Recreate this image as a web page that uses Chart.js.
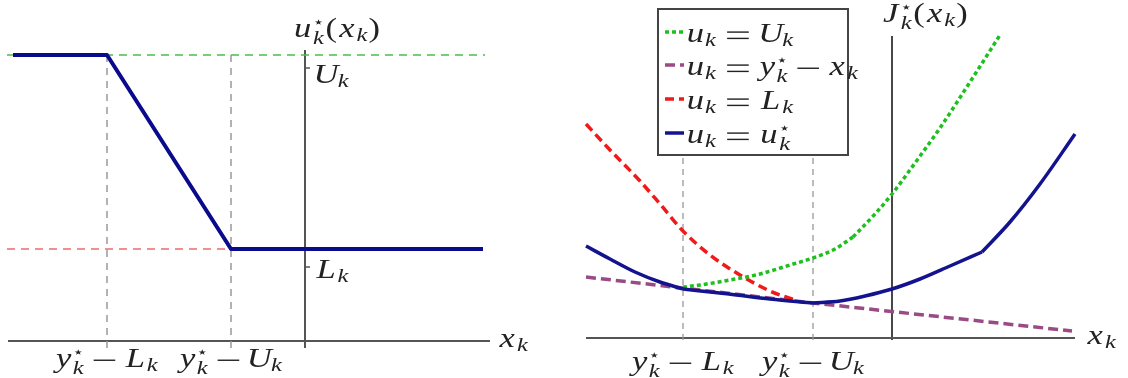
<!DOCTYPE html>
<html lang="en">
<head>
<meta charset="UTF-8">
<title>u*(x) and J*(x)</title>
<script src="https://cdn.jsdelivr.net/npm/chart.js"></script>
<style>
  body { margin: 0; background: #fff; }
  .panel { position: absolute; top: 0; width: 560px; height: 378px; }
  #leftPanel { left: 0; }
  #rightPanel { left: 568px; }
</style>
</head>
<body>
<div class="panel" id="leftPanel"><canvas id="leftChart" width="560" height="378"></canvas></div>
<div class="panel" id="rightPanel"><canvas id="rightChart" width="560" height="378"></canvas></div>
<script>
// ---------- left panel: u*_k(x_k) ----------
const yMinusL = -19.8;        // y*_k - L_k
const yMinusU = -7.4;         // y*_k - U_k
const levelU = 28.6;          // U_k
const levelL = 9.2;           // L_k
const uStarX = [-29.2, yMinusL, yMinusU, 17.8];
const uStarY = [levelU, levelU, levelL, levelL];
const uTickVals = [27.3, 7.4];   // U_k, L_k tick marks on the vertical axis

// ---------- right panel: J*_k(x_k) ----------
const jMarks = [-20.9, -7.9];    // y*_k - L_k, y*_k - U_k
const jOptX = [-30.6, -28.2, -25.7, -23.2, -20.9, -16.3, -12.2, -7.9, -5.2, -2.7, 0, 2.8, 5.8, 9.0, 11.8, 14.8, 18.3];
const jOptY = [9.2, 7.9, 6.6, 5.6, 4.9, 4.4, 3.9, 3.5, 3.7, 4.2, 4.9, 5.9, 7.2, 8.6, 11.6, 15.4, 20.4];
const jOptKinks = [4, 7, 13];
const jUX = [-21.6, -19.2, -16.2, -13.2, -10.2, -7.9, -5.7, -3.9, -1.7, 0, 2.3, 4.8, 7.8, 10.8];
const jUY = [5.0, 5.3, 5.8, 6.4, 7.3, 8.0, 8.9, 10.1, 12.4, 14.4, 17.5, 21.0, 25.6, 30.3];
const jUKinks = [7];
const jLX = [-30.6, -28.2, -25.2, -23.2, -20.9, -18.2, -15.2, -12.2, -9.7];
const jLY = [21.4, 18.8, 15.7, 13.4, 10.7, 8.3, 6.3, 4.7, 3.8];
const jYX = [-30.6, -7.9, 18.0];
const jYY = [6.1, 3.5, 0.7];

const SERIF = '"Liberation Serif", "DejaVu Serif", serif';
const TEXT = '#222';
const SX = 1.2;       // the figure is a bit wider than tall
const GSX = 1.28;     // glyph stretch (Times is narrower than CM)
const CMW = { u: .572, x: .572, y: .49, k: .521, U: .683, L: .681, J: .554, '(': .389, ')': .389 };

function parseMath(expr) {
  const boxes = [];
  for (let i = 0; i < expr.length; i++) {
    const c = expr[i];
    if (c === '_' || c === '^') {
      const last = boxes[boxes.length - 1];
      const s = expr[++i];
      if (c === '_') last.sub = s; else last.sup = s === '*' ? '\u22C6' : s;
    } else if (c === '=' || c === '-') {
      boxes.push({ op: c });
    } else if (c !== ' ') {
      boxes.push({ ch: c, roman: c === '(' || c === ')' });
    }
  }
  return boxes;
}

function mathWidth(boxes, size) {
  let w = 0;
  boxes.forEach(b => {
    if (b.op) { w += (b.op === '=' ? 1.334 : 1.222) * size * SX; return; }
    w += CMW[b.ch] * size * SX;
    if (b.sub || b.sup) w += Math.max(b.sub ? CMW[b.sub] * 0.7 : 0, b.sup ? 0.4 : 0) * size * SX;
  });
  return w;
}

function drawGlyph(ctx, ch, cx, y, font) {
  ctx.save();
  ctx.font = font;
  ctx.translate(cx, y);
  ctx.scale(GSX, 1);
  ctx.textAlign = 'center';
  ctx.fillText(ch, 0, 0);
  ctx.restore();
}

function drawMath(ctx, expr, x, y, size, align) {
  const boxes = parseMath(expr);
  const w = mathWidth(boxes, size);
  let px = align === 'center' ? x - w / 2 : x;
  ctx.fillStyle = TEXT;
  ctx.textBaseline = 'alphabetic';
  const bar = Math.max(1.4, size * 0.045);
  boxes.forEach(b => {
    if (b.op) {
      const gap = (b.op === '=' ? 0.278 : 0.222) * size * SX;
      const len = 0.667 * size * SX;
      const x0 = px + gap + 0.055 * size * SX;
      if (b.op === '=') {
        ctx.fillRect(x0, y - 0.367 * size - bar / 2, len, bar);
        ctx.fillRect(x0, y - 0.133 * size - bar / 2, len, bar);
      } else {
        ctx.fillRect(x0, y - 0.25 * size - bar / 2, len, bar);
      }
      px += gap * 2 + 0.778 * size * SX;
      return;
    }
    const cw = CMW[b.ch] * size * SX;
    drawGlyph(ctx, b.ch, px + cw / 2, y, (b.roman ? '' : 'italic ') + size + 'px ' + SERIF);
    px += cw;
    if (b.sub || b.sup) {
      const sw = Math.max(b.sub ? CMW[b.sub] * 0.7 : 0, b.sup ? 0.4 : 0) * size * SX;
      const ss = Math.round(size * 0.7);
      if (b.sub) drawGlyph(ctx, b.sub, px + sw / 2, y + (b.sup ? 0.25 : 0.15) * size, 'italic ' + ss + 'px ' + SERIF);
      if (b.sup) drawGlyph(ctx, b.sup, px + sw / 2, y - 0.36 * size, Math.round(size * 0.55) + 'px "DejaVu Sans", sans-serif');
      px += sw;
    }
  });
}

function series(xs, ys, color, width, dash, smooth) {
  return {
    data: xs.map((x, i) => ({ x: x, y: ys[i] })),
    showLine: true, borderColor: color, borderWidth: width, borderDash: dash || [],
    pointRadius: 0, fill: false, tension: 0, clip: false, borderJoinStyle: 'round',
    cubicInterpolationMode: smooth ? 'monotone' : 'default'
  };
}

// a curve with corners: each smooth piece gets its own monotone dataset
function curve(xs, ys, kinks, color, width, dash) {
  const cuts = [0].concat(kinks, [xs.length - 1]);
  const out = [];
  for (let i = 0; i < cuts.length - 1; i++) {
    out.push(series(xs.slice(cuts[i], cuts[i + 1] + 1), ys.slice(cuts[i], cuts[i + 1] + 1), color, width, dash, true));
  }
  return out;
}

function labelPlugin(texts, legend) {
  return {
    id: 'mathLabels',
    afterDatasetsDraw(chart) {
      const ctx = chart.ctx;
      const sx = chart.scales.x, sy = chart.scales.y;
      ctx.save();
      texts.forEach(t => drawMath(ctx, t.expr, sx.getPixelForValue(t.x), sy.getPixelForValue(t.y), t.size || 27, t.align));
      if (legend) {
        const x0 = sx.getPixelForValue(legend.box[0]), y0 = sy.getPixelForValue(legend.box[1]);
        const x1 = sx.getPixelForValue(legend.box[2]), y1 = sy.getPixelForValue(legend.box[3]);
        ctx.fillStyle = '#fff';
        ctx.fillRect(x0, y0, x1 - x0, y1 - y0);
        ctx.strokeStyle = '#444';
        ctx.lineWidth = 2;
        ctx.strokeRect(x0, y0, x1 - x0, y1 - y0);
        legend.rows.forEach(r => {
          const ly = sy.getPixelForValue(r.y);
          ctx.strokeStyle = r.style[0];
          ctx.lineWidth = r.style[1];
          ctx.setLineDash(r.style[2] || []);
          ctx.beginPath();
          ctx.moveTo(sx.getPixelForValue(legend.sample[0]), ly);
          ctx.lineTo(sx.getPixelForValue(legend.sample[1]), ly);
          ctx.stroke();
          ctx.setLineDash([]);
          drawMath(ctx, r.expr, sx.getPixelForValue(legend.textX), ly + 10, 27, 'left');
        });
      }
      ctx.restore();
    }
  };
}

function panelChart(canvasId, range, datasets, plugin) {
  return new Chart(document.getElementById(canvasId), {
    type: 'scatter',
    data: { datasets: datasets },
    options: {
      responsive: false, animation: false, devicePixelRatio: 1,
      layout: { padding: 0 },
      plugins: { legend: { display: false }, tooltip: { enabled: false } },
      scales: {
        x: { type: 'linear', display: false, min: range[0], max: range[1] },
        y: { type: 'linear', display: false, min: range[2], max: range[3] }
      }
    },
    plugins: [plugin]
  });
}

const AXIS = '#555';
const GRID = '#999';

// left chart
panelChart('leftChart', [-30.5, 25.5, -3.7, 34.1], [
  series(uStarX, uStarY, '#0a0a8c', 4),
  series([-29.8, 18.0], [levelU, levelU], '#4cbf4c', 1.6, [8, 6]),
  series([-29.8, yMinusU], [levelL, levelL], '#f06a6a', 1.6, [8, 6]),
  series([yMinusL, yMinusL], [levelU, -0.8], GRID, 1.5, [7, 6]),
  series([yMinusU, yMinusU], [levelU, -0.8], GRID, 1.5, [7, 6]),
  series([-29.7, 18.5], [0, 0], AXIS, 2),
  series([0, 0], [-0.7, 29.1], AXIS, 2),
  series([0, 0.5], [uTickVals[0], uTickVals[0]], AXIS, 1.5),
  series([0, 0.5], [uTickVals[1], uTickVals[1]], AXIS, 1.5)
], labelPlugin([
  { expr: 'u^*_k(x_k)', x: 3.2, y: 30.4, align: 'center' },
  { expr: 'x_k', x: 19.3, y: -0.6, align: 'left' },
  { expr: 'U_k', x: 1.0, y: 25.8, align: 'left' },
  { expr: 'L_k', x: 1.0, y: 6.3, align: 'left' },
  { expr: 'y^*_k-L_k', x: yMinusL, y: -2.6, align: 'center' },
  { expr: 'y^*_k-U_k', x: yMinusU, y: -2.6, align: 'center' }
]));

// right chart
const styleOpt = ['#13138f', 3.5, []];
const styleU = ['#1fbf1f', 3.5, [4, 3]];
const styleL = ['#f01a1a', 3.5, [9, 5]];
const styleY = ['#9a4a84', 3.5, [10, 5]];

panelChart('rightChart', [-32.4, 23.6, -4.0, 33.8], [].concat(
  curve(jOptX, jOptY, jOptKinks, ...styleOpt),
  curve(jUX, jUY, jUKinks, ...styleU),
  curve(jLX, jLY, [], ...styleL),
  [series(jYX, jYY, ...styleY),
   series([jMarks[0], jMarks[0]], [18.0, -0.3], GRID, 1.3, [6, 5]),
   series([jMarks[1], jMarks[1]], [18.0, -0.3], GRID, 1.3, [6, 5]),
   series([-30.6, 18.3], [0, 0], AXIS, 2),
   series([0, 0], [-0.2, 30.2], '#333', 1.8)]
), labelPlugin([
  { expr: 'J^*_k(x_k)', x: 3.3, y: 31.6, align: 'center' },
  { expr: 'x_k', x: 19.4, y: -0.6, align: 'left' },
  { expr: 'y^*_k-L_k', x: jMarks[0], y: -3.2, align: 'center' },
  { expr: 'y^*_k-U_k', x: jMarks[1], y: -3.2, align: 'center' }
], {
  box: [-23.4, 32.9, -4.4, 18.3],
  sample: [-22.7, -20.8],
  textX: -20.6,
  rows: [
    { style: styleU, y: 30.6, expr: 'u_k=U_k' },
    { style: styleY, y: 27.3, expr: 'u_k=y^*_k-x_k' },
    { style: styleL, y: 23.9, expr: 'u_k=L_k' },
    { style: styleOpt, y: 20.5, expr: 'u_k=u^*_k' }
  ]
}));
</script>
</body>
</html>
